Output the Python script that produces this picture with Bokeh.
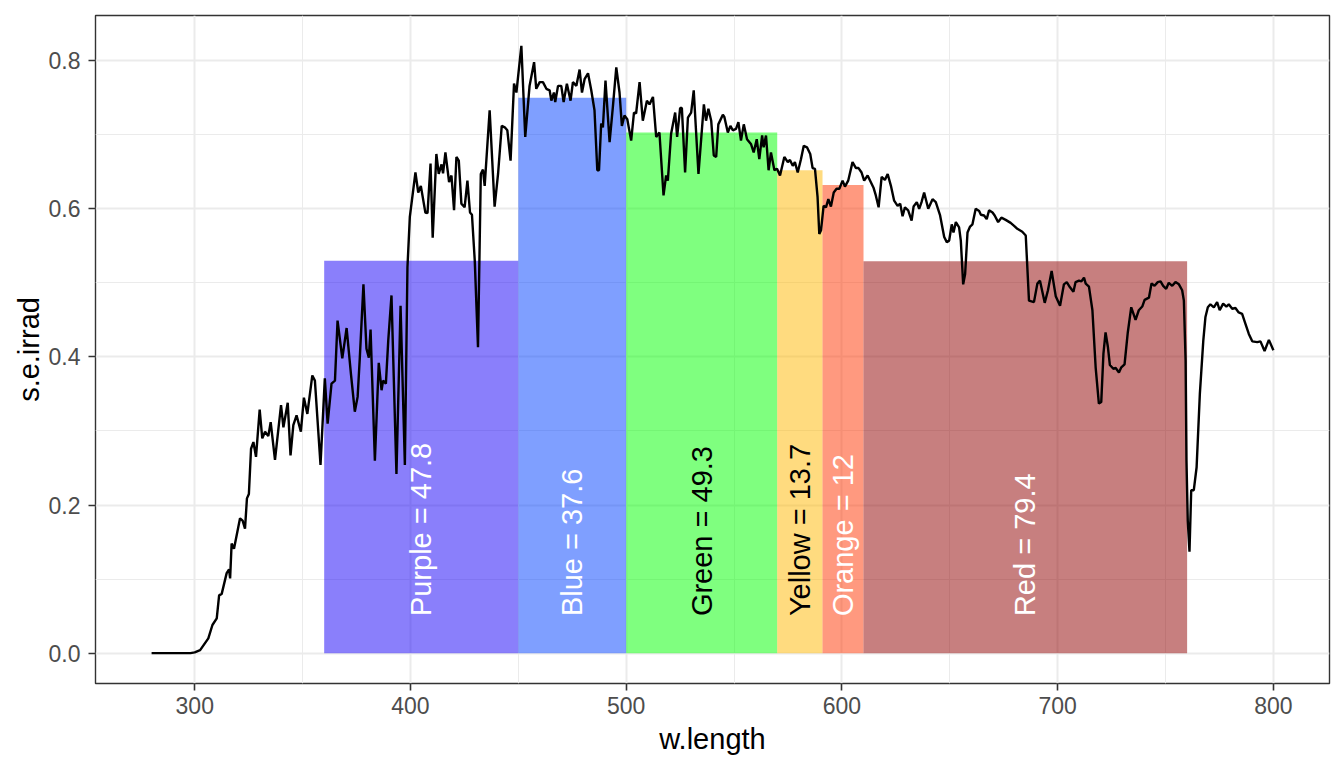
import math
from bokeh.plotting import figure
from bokeh.models import ColumnDataSource, Range1d, FixedTicker, NumeralTickFormatter
from bokeh.core.properties import value
from bokeh.embed import file_html
from bokeh.resources import INLINE

# ---- spectrum ----
w_length = [
    280.0, 290.0, 298.0, 300.0, 302.5, 306.3, 308.2, 310.2, 311.3, 312.5, 314.8, 315.9,
    316.4, 317.1, 318.2, 321.0, 322.2, 323.3, 324.2, 325.1, 326.1, 327.2, 328.4, 330.1,
    331.3, 332.6, 334.1, 335.2, 337.2, 340.0, 341.1, 343.1, 344.4, 345.7, 347.2, 349.2,
    350.6, 352.2, 354.5, 355.7, 358.3, 360.3, 361.6, 363.4, 365.0, 366.2, 368.4, 370.4,
    372.4, 374.2, 375.5, 376.5, 378.2, 379.6, 380.7, 381.5, 383.5, 385.3, 386.6, 387.3,
    388.6, 389.7, 391.2, 393.5, 395.4, 397.4, 398.6, 399.7, 402.3, 403.6, 404.8, 406.9,
    407.9, 409.3, 410.3, 412.0, 413.1, 414.4, 415.1, 416.2, 417.9, 419.0, 420.2, 421.3,
    422.4, 423.6, 425.1, 426.4, 427.6, 428.5, 429.8, 431.3, 432.6, 433.6, 434.4, 436.7,
    439.0, 440.6, 442.3, 443.7, 444.9, 446.4, 448.0, 449.1, 451.4, 453.2, 455.2, 457.3,
    458.3, 459.9, 461.4, 463.0, 464.5, 465.3, 466.5, 467.1, 468.4, 469.9, 471.0, 472.5,
    474.2, 475.3, 476.9, 478.4, 479.5, 480.7, 482.3, 483.8, 485.3, 486.6, 487.4, 488.4,
    489.2, 490.4, 492.3, 493.8, 495.4, 496.9, 498.0, 499.2, 500.5, 502.3, 503.6, 504.6,
    506.2, 507.7, 509.6, 510.8, 512.4, 513.9, 515.4, 517.3, 518.5, 519.3, 520.8, 522.7,
    523.6, 525.0, 525.8, 527.3, 528.6, 530.1, 531.3, 533.5, 536.0, 537.0, 538.1, 539.4,
    540.6, 541.7, 542.7, 544.8, 545.5, 547.1, 548.3, 549.4, 550.9, 552.0, 553.2, 554.5,
    556.0, 557.9, 559.1, 560.5, 561.7, 563.0, 563.7, 564.8, 566.0, 567.1, 568.7, 569.9,
    571.3, 573.3, 574.9, 575.9, 577.2, 578.2, 579.5, 581.0, 582.3, 583.8, 585.3, 586.4,
    587.5, 588.7, 589.5, 590.3, 591.5, 592.6, 593.7, 594.9, 596.2, 597.5, 598.8, 600.3,
    601.4, 602.9, 604.9, 606.5, 607.7, 609.1, 610.3, 611.9, 614.7, 615.7, 617.0, 618.4,
    619.9, 621.2, 622.7, 624.2, 625.8, 627.0, 628.1, 629.2, 630.7, 632.3, 633.2, 634.7,
    635.8, 636.9, 638.1, 640.0, 642.0, 643.5, 645.5, 647.4, 648.6, 649.7, 650.9, 651.7,
    652.8, 654.3, 655.1, 656.2, 657.1, 658.2, 659.4, 660.5, 662.0, 663.6, 664.4, 665.9,
    667.1, 668.2, 669.8, 670.8, 672.4, 673.9, 675.9, 678.2, 679.8, 681.3, 683.6, 685.2,
    686.7, 689.0, 690.6, 691.8, 694.0, 695.5, 697.2, 699.1, 701.1, 702.9, 704.2, 705.7,
    707.3, 708.3, 709.9, 711.0, 712.2, 713.0, 714.5, 716.1, 717.6, 719.1, 720.2, 721.2,
    722.2, 723.3, 724.2, 725.8, 726.9, 728.4, 729.5, 731.0, 732.5, 734.1, 736.1, 737.6,
    739.2, 740.3, 742.3, 743.5, 744.9, 746.4, 747.7, 748.9, 750.3, 751.5, 753.1, 754.6,
    756.2, 757.7, 758.5, 759.3, 759.7, 760.3, 761.1, 761.9, 763.1, 764.4, 765.9, 767.5,
    768.5, 769.6, 770.8, 772.4, 773.9, 775.1, 776.7, 778.2, 779.3, 780.9, 782.4, 783.9,
    785.5, 787.0, 788.6, 790.2, 792.5, 794.0, 795.9, 797.9, 800.0,
]
s_e_irrad = [
    0.000, 0.000, 0.000, 0.001, 0.004, 0.020, 0.038, 0.047, 0.078, 0.080, 0.108, 0.113,
    0.101, 0.148, 0.141, 0.182, 0.179, 0.168, 0.209, 0.215, 0.276, 0.285, 0.265, 0.329,
    0.290, 0.299, 0.293, 0.312, 0.261, 0.335, 0.305, 0.338, 0.267, 0.308, 0.321, 0.299,
    0.345, 0.323, 0.375, 0.368, 0.254, 0.371, 0.310, 0.364, 0.368, 0.449, 0.398, 0.439,
    0.377, 0.326, 0.346, 0.398, 0.498, 0.411, 0.399, 0.437, 0.260, 0.392, 0.355, 0.368,
    0.364, 0.422, 0.483, 0.242, 0.469, 0.254, 0.521, 0.589, 0.649, 0.622, 0.631, 0.595,
    0.594, 0.661, 0.561, 0.674, 0.647, 0.660, 0.648, 0.676, 0.636, 0.645, 0.598, 0.670,
    0.665, 0.607, 0.602, 0.638, 0.595, 0.592, 0.530, 0.413, 0.647, 0.653, 0.631, 0.733,
    0.603, 0.647, 0.712, 0.710, 0.706, 0.665, 0.769, 0.757, 0.820, 0.697, 0.766, 0.798,
    0.762, 0.771, 0.771, 0.762, 0.760, 0.746, 0.757, 0.744, 0.766, 0.766, 0.744, 0.769,
    0.746, 0.771, 0.766, 0.788, 0.757, 0.775, 0.783, 0.760, 0.733, 0.652, 0.652, 0.715,
    0.710, 0.773, 0.690, 0.737, 0.791, 0.757, 0.712, 0.726, 0.721, 0.692, 0.730, 0.729,
    0.771, 0.719, 0.746, 0.741, 0.751, 0.697, 0.703, 0.618, 0.645, 0.638, 0.701, 0.730,
    0.697, 0.736, 0.736, 0.649, 0.723, 0.730, 0.760, 0.647, 0.741, 0.719, 0.735, 0.719,
    0.672, 0.670, 0.714, 0.727, 0.724, 0.703, 0.712, 0.706, 0.708, 0.717, 0.692, 0.714,
    0.694, 0.687, 0.676, 0.694, 0.667, 0.699, 0.683, 0.699, 0.652, 0.676, 0.652, 0.654,
    0.645, 0.670, 0.663, 0.666, 0.658, 0.663, 0.649, 0.667, 0.685, 0.683, 0.674, 0.655,
    0.654, 0.616, 0.566, 0.571, 0.604, 0.602, 0.613, 0.603, 0.622, 0.627, 0.627, 0.638,
    0.630, 0.638, 0.663, 0.655, 0.655, 0.649, 0.638, 0.645, 0.628, 0.618, 0.602, 0.643,
    0.639, 0.647, 0.631, 0.611, 0.604, 0.607, 0.590, 0.602, 0.598, 0.584, 0.603, 0.609,
    0.600, 0.609, 0.622, 0.600, 0.613, 0.609, 0.591, 0.562, 0.555, 0.557, 0.579, 0.568,
    0.582, 0.575, 0.557, 0.498, 0.512, 0.568, 0.576, 0.579, 0.600, 0.597, 0.592, 0.591,
    0.586, 0.598, 0.595, 0.591, 0.582, 0.588, 0.585, 0.581, 0.577, 0.573, 0.569, 0.564,
    0.476, 0.474, 0.499, 0.503, 0.473, 0.490, 0.516, 0.482, 0.469, 0.498, 0.501, 0.494,
    0.488, 0.501, 0.503, 0.502, 0.507, 0.499, 0.495, 0.463, 0.386, 0.337, 0.339, 0.404,
    0.433, 0.413, 0.389, 0.384, 0.385, 0.379, 0.386, 0.390, 0.433, 0.467, 0.450, 0.463,
    0.468, 0.477, 0.480, 0.499, 0.496, 0.501, 0.502, 0.496, 0.492, 0.500, 0.496, 0.501,
    0.498, 0.490, 0.476, 0.395, 0.260, 0.179, 0.137, 0.220, 0.220, 0.251, 0.350, 0.422,
    0.454, 0.467, 0.471, 0.467, 0.474, 0.463, 0.472, 0.468, 0.471, 0.465, 0.466, 0.460,
    0.458, 0.445, 0.431, 0.421, 0.420, 0.421, 0.408, 0.423, 0.409,
]

# ---- wavebands ----
band_names = ["Purple", "Blue", "Green", "Yellow", "Orange", "Red"]
band_low = [360, 450, 500, 570, 591, 610]
band_high = [450, 500, 570, 591, 610, 760]
band_mean = [0.530, 0.750, 0.703, 0.652, 0.632, 0.529]
band_integral = ["47.8", "37.6", "49.3", "13.7", "12", "79.4"]
band_colors = ["#1500F7", "#003FFF", "#00FF00", "#FFB700", "#FF3300", "#8F0000"]
label_colors = ["white", "white", "black", "black", "white", "white"]

x_ticks = [300, 400, 500, 600, 700, 800]
x_minor = [350, 450, 550, 650, 750]
y_ticks = [0.0, 0.2, 0.4, 0.6, 0.8]
y_minor = [0.1, 0.3, 0.5, 0.7]

FONT = "Liberation Sans"

bands = ColumnDataSource(dict(
    left=band_low, right=band_high, top=band_mean,
    bottom=[0] * len(band_names), color=band_colors,
    mid=[(a + b) / 2 for a, b in zip(band_low, band_high)],
    ylab=[0.05] * len(band_names),
    label=[f"{n} = {v}" for n, v in zip(band_names, band_integral)],
    lcol=label_colors,
))

p = figure(width=1340, height=764, output_backend="svg", toolbar_location=None,
           x_range=Range1d(254, 826), y_range=Range1d(-0.041, 0.861))
p.min_border_left = 95
p.min_border_right = 11
p.min_border_top = 15
p.min_border_bottom = 81

p.background_fill_color = "white"
p.border_fill_color = "white"
p.outline_line_color = "#333333"
p.outline_line_width = 1.4

p.xaxis.ticker = FixedTicker(ticks=x_ticks, minor_ticks=x_minor)
p.yaxis.ticker = FixedTicker(ticks=y_ticks, minor_ticks=y_minor)
p.yaxis.formatter = NumeralTickFormatter(format="0.0")

for g in (p.xgrid, p.ygrid):
    g.grid_line_color = "#EBEBEB"
    g.grid_line_width = 2
    g.minor_grid_line_color = "#EBEBEB"
    g.minor_grid_line_width = 1

for ax in (p.xaxis, p.yaxis):
    ax.axis_line_color = None
    ax.major_tick_line_color = "#333333"
    ax.major_tick_line_width = 1.6
    ax.major_tick_out = 7
    ax.major_tick_in = 0
    ax.minor_tick_line_color = None
    ax.major_label_text_font = FONT
    ax.major_label_text_font_size = "23px"
    ax.major_label_text_color = "#4D4D4D"
    ax.axis_label_text_font = FONT
    ax.axis_label_text_font_size = "29px"
    ax.axis_label_text_font_style = "normal"
    ax.axis_label_text_color = "black"

p.xaxis.axis_label = "w.length"
p.yaxis.axis_label = "s.e.irrad"
p.xaxis.major_label_standoff = 6
p.xaxis.axis_label_standoff = 6
p.yaxis.major_label_standoff = 8
p.yaxis.axis_label_standoff = 1

p.quad(left="left", right="right", top="top", bottom="bottom", source=bands,
       fill_color="color", fill_alpha=0.5, line_color=None)

p.line(w_length, s_e_irrad, line_color="black", line_width=2.4)

p.text(x="mid", y="ylab", text="label", source=bands, angle=math.pi / 2,
       text_align="left", text_baseline="middle", text_color="lcol",
       text_font=value(FONT), text_font_size="29px")

open("out.html", "w").write(file_html(p, INLINE))
